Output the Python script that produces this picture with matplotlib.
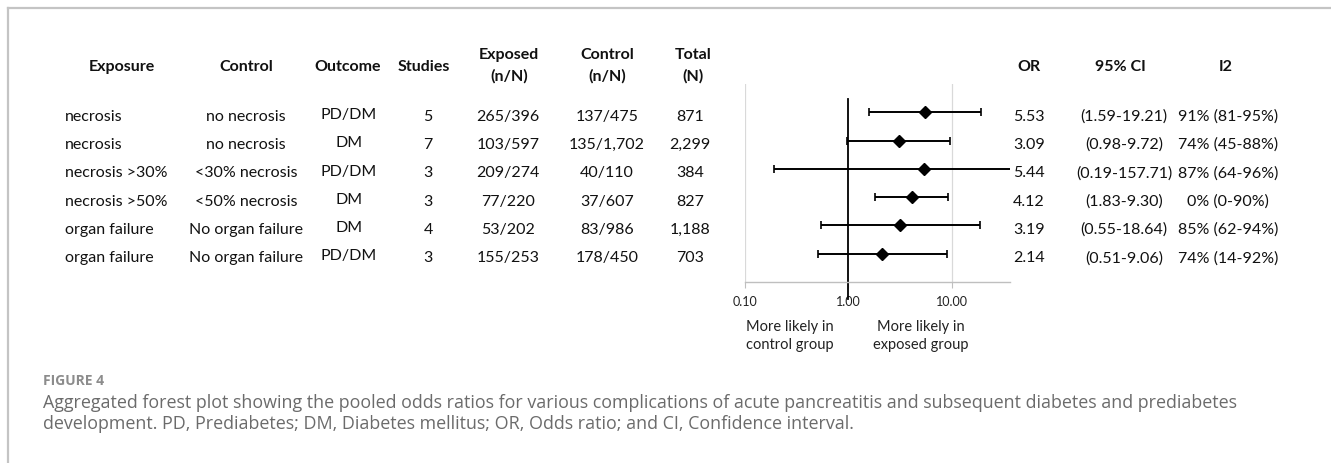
import numpy as np
import matplotlib
matplotlib.use('Agg')
import matplotlib.pyplot as plt
import matplotlib.transforms as mtransforms
from matplotlib.lines import Line2D

# table data
exposure = ['necrosis', 'necrosis', 'necrosis >30%', 'necrosis >50%',
            'organ failure', 'organ failure']
control = ['no necrosis', 'no necrosis', '<30% necrosis', '<50% necrosis',
           'No organ failure', 'No organ failure']
outcome = ['PD/DM', 'DM', 'PD/DM', 'DM', 'DM', 'PD/DM']
studies = [5, 7, 3, 3, 4, 3]
exposed_n = ['265/396', '103/597', '209/274', '77/220', '53/202', '155/253']
control_n = ['137/475', '135/1,702', '40/110', '37/607', '83/986', '178/450']
total_n = ['871', '2,299', '384', '827', '1,188', '703']
odds = [5.53, 3.09, 5.44, 4.12, 3.19, 2.14]
ci_low = [1.59, 0.98, 0.19, 1.83, 0.55, 0.51]
ci_high = [19.21, 9.72, 157.71, 9.30, 18.64, 9.06]
i2 = ['91% (81-95%)', '74% (45-88%)', '87% (64-96%)', '0% (0-90%)',
      '85% (62-94%)', '74% (14-92%)']
ticks = [0.1, 1, 10]

plt.rcParams['font.family'] = ['Lato', 'DejaVu Sans']

W, H = 1331, 464
fig = plt.figure(figsize=(W / 100, H / 100), dpi=100)

def fx(px):
    return px / W

def fy(py):
    return 1 - py / H

# forest axes
ax = fig.add_axes([fx(745), fy(283), fx(1010) - fx(745), (283 - 85) / H])
rows = np.arange(len(odds))
err = [np.array(odds) - np.array(ci_low), np.array(ci_high) - np.array(odds)]
ax.errorbar(odds, rows, xerr=err, fmt='D', color='black', ms=6.5,
            elinewidth=1.4, capsize=3, capthick=1.2, zorder=3)
ax.set_xscale('log')
ax.set_xlim(0.1, 36.7)
ax.set_ylim(6, -1)
for t in [0.1, 10]:
    ax.axvline(t, color='#d9d9d9', lw=0.9, zorder=0)
ax.add_line(Line2D([1, 1], [-0.47, 6.6], color='black', lw=1.3, clip_on=False))
for s in ['top', 'right', 'left']:
    ax.spines[s].set_visible(False)
ax.spines['bottom'].set_color('#bfbfbf')
ax.spines['bottom'].set_linewidth(1.0)
ax.set_yticks([])
ax.set_xticks(ticks)
ax.set_xticklabels(['%.2f' % t for t in ticks])
ax.xaxis.set_minor_locator(matplotlib.ticker.NullLocator())
ax.tick_params(axis='x', length=4, color='#bfbfbf', labelsize=9,
               labelcolor='#222222', pad=5)

fig.text(fx(790), fy(336), 'More likely in\ncontrol group', ha='center', va='center',
         fontsize=10.5, color='#222222', linespacing=1.3)
fig.text(fx(921), fy(336), 'More likely in\nexposed group', ha='center', va='center',
         fontsize=10.5, color='#222222', linespacing=1.3)

# headers
hdr = dict(fontsize=11.5, fontweight='bold', color='#111111', ha='center', va='center')
fig.text(fx(122), fy(67), 'Exposure', **hdr)
fig.text(fx(246), fy(67), 'Control', **hdr)
fig.text(fx(348), fy(67), 'Outcome', **hdr)
fig.text(fx(424), fy(67), 'Studies', **hdr)
fig.text(fx(509), fy(66), 'Exposed\n(n/N)', linespacing=1.6, **hdr)
fig.text(fx(607), fy(66), 'Control\n(n/N)', linespacing=1.6, **hdr)
fig.text(fx(693), fy(66), 'Total\n(N)', linespacing=1.6, **hdr)
fig.text(fx(1029), fy(67), 'OR', **hdr)
fig.text(fx(1120), fy(67), '95% CI', **hdr)
fig.text(fx(1226), fy(67), 'I2', **hdr)

# body rows
tr = mtransforms.blended_transform_factory(fig.transFigure, ax.transData)
body = dict(fontsize=11.5, color='#111111', va='center', transform=tr)
for i in rows:
    y = i + 0.12
    fig.text(fx(65), y, exposure[i], ha='left', **body)
    fig.text(fx(246), y, control[i], ha='center', **body)
    fig.text(fx(349), y - 0.06, outcome[i], ha='center', **body)
    fig.text(fx(428), y, str(studies[i]), ha='center', **body)
    fig.text(fx(508), y, exposed_n[i], ha='center', **body)
    fig.text(fx(607), y, control_n[i], ha='center', **body)
    fig.text(fx(690), y, total_n[i], ha='center', **body)
    fig.text(fx(1029), y, '%.2f' % odds[i], ha='center', **body)
    fig.text(fx(1124), y, '(%.2f-%.2f)' % (ci_low[i], ci_high[i]), ha='center', **body)
    fig.text(fx(1228), y, i2[i], ha='center', **body)

# frame
fig.add_artist(Line2D([fx(8), fx(8)], [fy(9), 0], color='#c4c4c4', lw=1.6))
fig.add_artist(Line2D([fx(8), 1], [fy(9), fy(9)], color='#c4c4c4', lw=1.6))

# caption
cap = ['Open Sans', 'DejaVu Sans']
fig.text(fx(43), fy(381), 'FIGURE 4', fontsize=10, fontweight='bold', color='#8c8c8c',
         ha='left', va='center', family=cap)
fig.text(fx(43), fy(403), 'Aggregated forest plot showing the pooled odds ratios for various complications '
         'of acute pancreatitis and subsequent diabetes and prediabetes',
         fontsize=12.9, color='#6b6b6b', ha='left', va='center', family=cap)
fig.text(fx(43), fy(424), 'development. PD, Prediabetes; DM, Diabetes mellitus; OR, Odds ratio; and CI, '
         'Confidence interval.', fontsize=12.9, color='#6b6b6b', ha='left', va='center', family=cap)

fig.savefig('out.png', dpi=100)
